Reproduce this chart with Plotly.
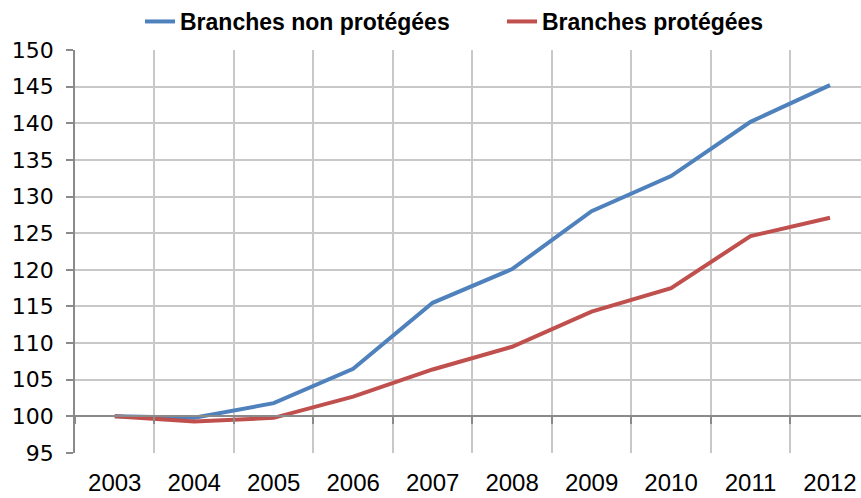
import plotly.graph_objects as go

years = [2003, 2004, 2005, 2006, 2007, 2008, 2009, 2010, 2011, 2012]
non_protegees = [100.0, 99.8, 101.8, 106.5, 115.5, 120.1, 128.0, 132.8, 140.2, 145.2]
protegees = [100.0, 99.3, 99.8, 102.7, 106.4, 109.5, 114.3, 117.5, 124.6, 127.1]
series_names = ["Branches non protégées", "Branches protégées"]
y_ticks = [95, 100, 105, 110, 115, 120, 125, 130, 135, 140, 145, 150]

boundaries = [y - 0.5 for y in years] + [years[-1] + 0.5]

fig = go.Figure()
fig.add_trace(go.Scatter(x=years, y=non_protegees, mode="lines", name=series_names[0],
                         line=dict(color="#4f81bd", width=4), legend="legend"))
fig.add_trace(go.Scatter(x=years, y=protegees, mode="lines", name=series_names[1],
                         line=dict(color="#c0504d", width=4), legend="legend2"))

legend_common = dict(orientation="h", xref="container", yref="container",
                     xanchor="left", y=1.0, yanchor="top",
                     font=dict(family="Liberation Sans", size=23, weight="bold"),
                     bgcolor="rgba(0,0,0,0)", itemwidth=30)

fig.update_layout(
    width=861, height=498,
    margin=dict(l=75, r=0, t=50, b=45, autoexpand=False),
    plot_bgcolor="white", paper_bgcolor="white",
    font=dict(family="DejaVu Sans", size=22, color="black"),
    showlegend=True,
    legend=dict(x=140 / 861, **legend_common),
    legend2=dict(x=502 / 861, **legend_common),
    xaxis=dict(range=[2002.5, 2012.39], tickvals=years, ticktext=[str(y) for y in years],
               tickfont=dict(family="Liberation Sans", size=24),
               showgrid=False, showline=False, zeroline=False, ticks="",
               ticklabelstandoff=13,
               minor=dict(tickvals=boundaries, showgrid=True, gridcolor="#c8c8c8", gridwidth=1.5)),
    yaxis=dict(range=[95, 150], tickvals=y_ticks, showgrid=True, gridcolor="#c8c8c8", gridwidth=1.5,
               zeroline=False, showline=True, linecolor="#8a8a8a", linewidth=1.5,
               ticks="outside", ticklen=7, tickcolor="#8a8a8a", tickwidth=1.5,
               ticklabelstandoff=8),
    xaxis2=dict(range=[2002.5, 2012.39], overlaying="x", anchor="free", position=5 / 55,
                showline=True, linecolor="#8a8a8a", linewidth=1.5, showgrid=False,
                zeroline=False, tickvals=boundaries, ticks="outside", ticklen=7,
                tickcolor="#8a8a8a", tickwidth=1.5, showticklabels=False),
)
# invisible trace to activate xaxis2
fig.add_trace(go.Scatter(x=[years[0]], y=[non_protegees[0]], xaxis="x2", mode="lines",
                         showlegend=False, hoverinfo="skip", line=dict(width=0)))
fig.write_html("out.html")
